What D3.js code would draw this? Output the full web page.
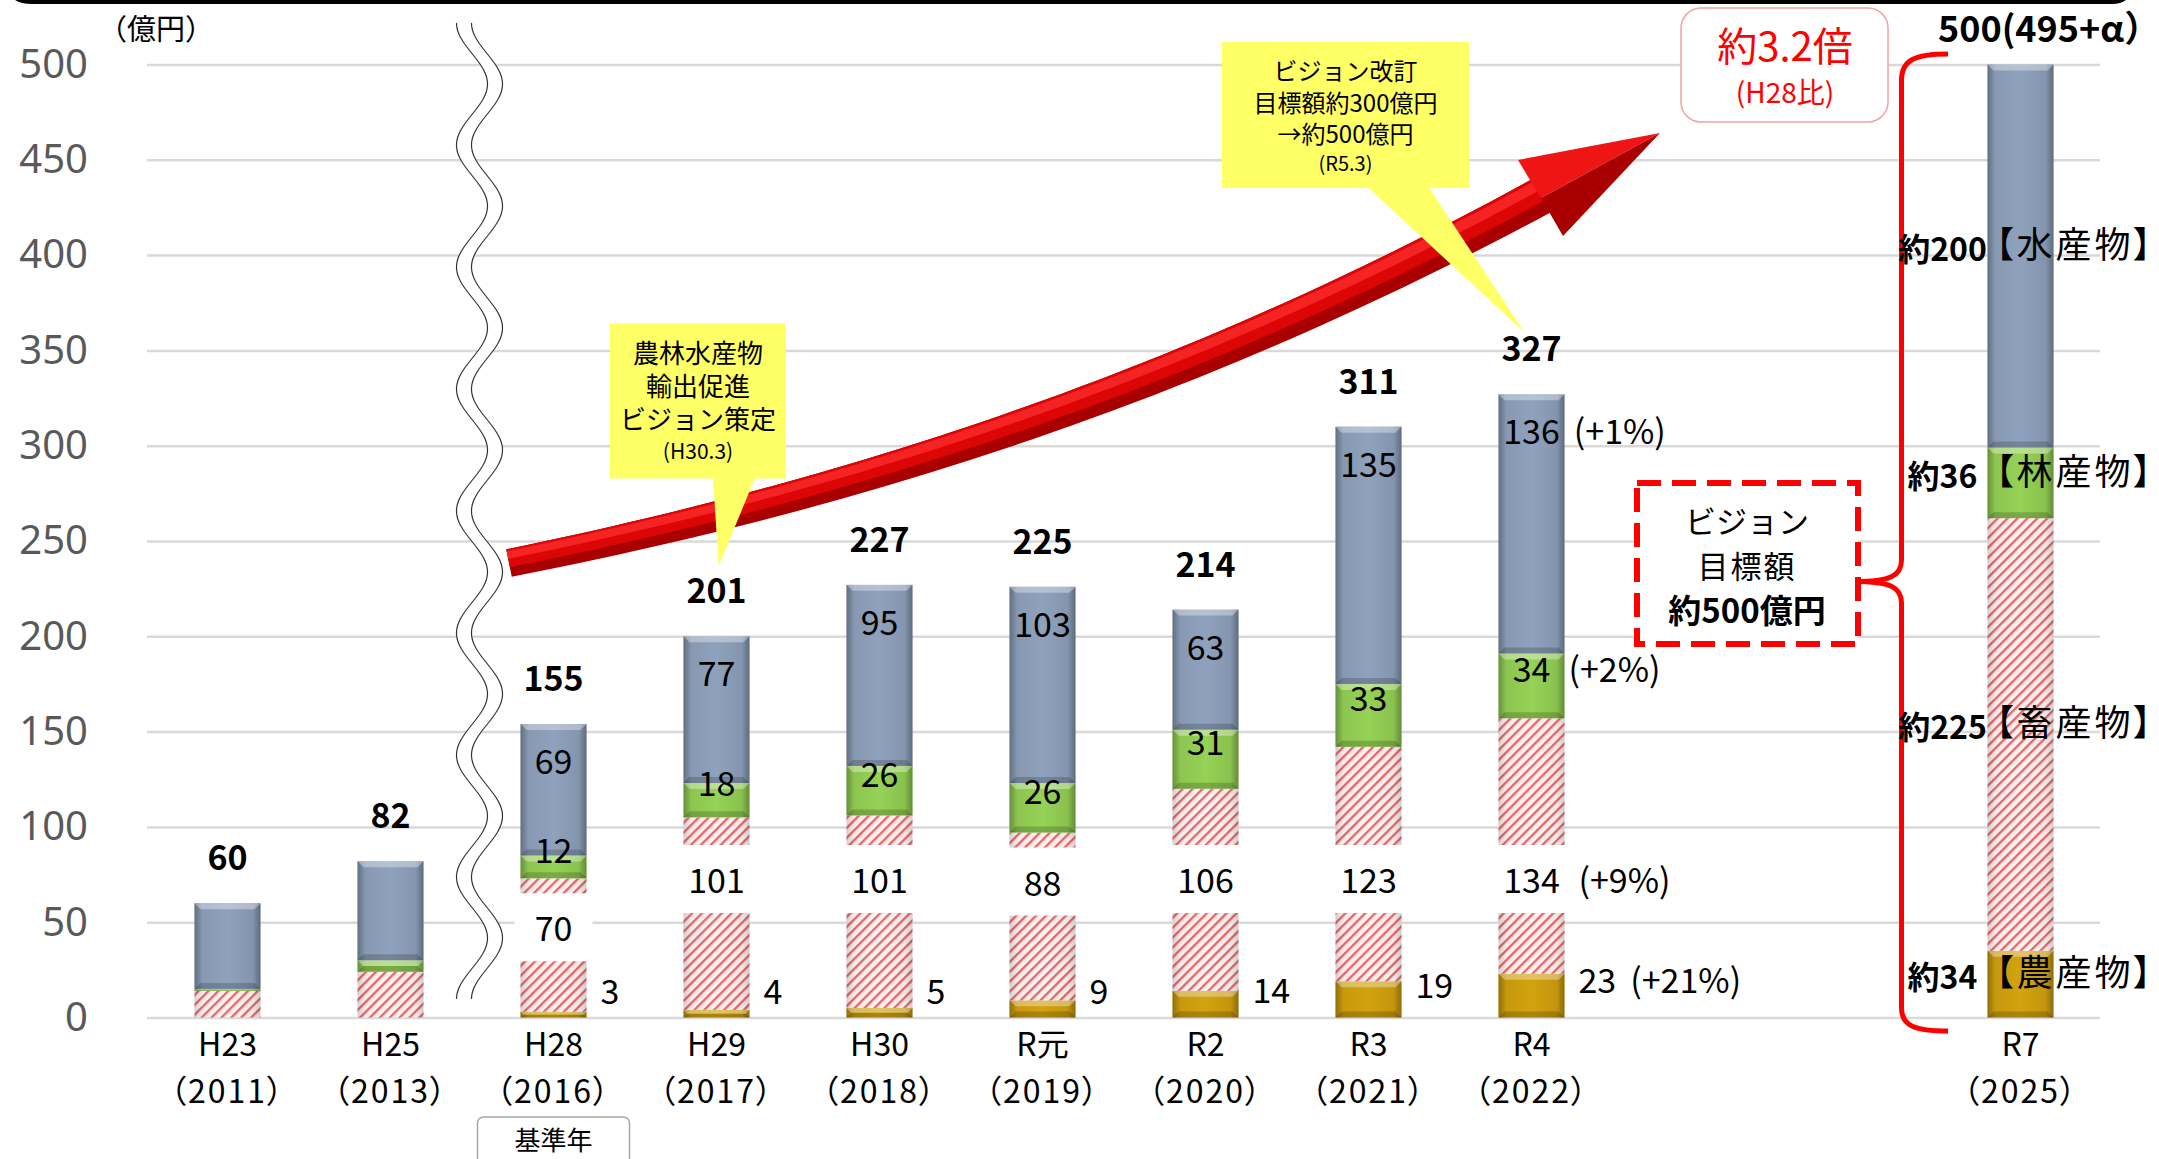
<!DOCTYPE html>
<html>
<head>
<meta charset="utf-8">
<script src="https://cdn.jsdelivr.net/npm/d3@7"></script>
<style>
  body { margin: 0; background: #fff; }
  svg text { font-family: "Noto Sans CJK JP", "Noto Sans", sans-serif; fill: #000; }
  .grid line { stroke: #d9d9d9; stroke-width: 2.5; }
  .grid text { font-family: "Noto Sans", sans-serif; font-size: 40px; fill: #595959; }
  .xaxis text { font-size: 32px; }
  .palt { font-feature-settings: "palt" 1; letter-spacing: 2px; }
  .names { font-feature-settings: "palt" 1; letter-spacing: 3px; }
</style>
</head>
<body>
<svg id="chart" width="2159" height="1159"></svg>
<script>
// ---- data ----
const slots = ['H23', 'H25', 'H28', 'H29', 'H30', 'R元', 'R2', 'R3', 'R4', 'gap1', 'gap2', 'R7'];
const categories = ['H23', 'H25', 'H28', 'H29', 'H30', 'R元', 'R2', 'R3', 'R4', 'R7'];
const years = ['（2011）', '（2013）', '（2016）', '（2017）', '（2018）', '（2019）', '（2020）', '（2021）', '（2022）', '（2025）'];
const agri      = [0, 0, 3, 4, 5, 9, 14, 19, 23, 35];
const livestock = [14, 24, 70, 101, 101, 88, 106, 123, 134, 227];
const forest    = [1, 6, 12, 18, 26, 26, 31, 33, 34, 37];
const fish      = [45, 52, 69, 77, 95, 103, 63, 135, 136, 201];
const totals    = [60, 82, 155, 201, 227, 225, 214, 311, 327];
const labelled  = ['H28', 'H29', 'H30', 'R元', 'R2', 'R3', 'R4'];
const r4Change  = ['(+21%)', '(+9%)', '(+2%)', '(+1%)'];
const targetValues = ['約34', '約225', '約36', '約200'];
const targetNames  = ['【農産物】', '【畜産物】', '【林産物】', '【水産物】'];
const targetTotal  = '500(495+α）';
const yTicks = [0, 50, 100, 150, 200, 250, 300, 350, 400, 450, 500];

const keys = ['agri', 'livestock', 'forest', 'fish'];
const colors = ['#d3a20e', 'url(#hatch)', '#95d255', '#8fa2bd'];

const svg = d3.select('#chart');

const x = d3.scaleBand().domain(slots).range([146, 2102]).paddingInner(0.595).paddingOuter(0.2975);
const y = d3.scaleLinear().domain([0, 500]).range([1017.5, 64.5]);
const bw = x.bandwidth();
const color = d3.scaleOrdinal().domain(keys).range(colors);

const rows = categories.map((c, i) => ({cat: c, agri: agri[i], livestock: livestock[i], forest: forest[i], fish: fish[i]}));
const stacked = d3.stack().keys(keys)(rows);

// ---- defs ----
const defs = svg.append('defs');
const hatch = defs.append('pattern').attr('id', 'hatch')
  .attr('patternUnits', 'userSpaceOnUse').attr('width', 7).attr('height', 7)
  .attr('patternTransform', 'rotate(45)');
hatch.append('rect').attr('width', 7).attr('height', 7).attr('fill', '#fcf0f0');
hatch.append('rect').attr('width', 2.3).attr('height', 7).attr('fill', '#e26a6a');

const side = defs.append('linearGradient').attr('id', 'side');
[[0, 0.32], [0.12, 0.06], [0.5, 0], [0.88, 0.08], [1, 0.34]].forEach(([o, a]) =>
  side.append('stop').attr('offset', o).attr('stop-color', '#000').attr('stop-opacity', a));

// top black border
svg.append('path').attr('d', 'M10,-12 Q12,2 32,2 L2112,2 Q2128,2 2130,-12')
  .attr('fill', 'none').attr('stroke', '#000').attr('stroke-width', 4);

// ---- grid + y labels ----
const grid = svg.append('g').attr('class', 'grid').attr('transform', 'translate(147,0)')
  .call(d3.axisLeft(y).tickValues(yTicks).tickSize(-(2100 - 147)).tickPadding(59));
grid.select('.domain').remove();

svg.append('text').attr('x', 98).attr('y', 40).attr('font-size', 29).text('（億円）');

// ---- bars ----
const gBars = svg.append('g');
stacked.forEach(layer => {
  layer.forEach(d => {
    const h = y(d[0]) - y(d[1]);
    if (h <= 0) return;
    const x0 = x(d.data.cat), y0 = y(d[1]);
    const g = gBars.append('g');
    g.append('rect').attr('x', x0).attr('y', y0).attr('width', bw).attr('height', h)
      .attr('fill', color(layer.key));
    g.append('rect').attr('x', x0).attr('y', y0).attr('width', bw).attr('height', h)
      .attr('fill', 'url(#side)').attr('opacity', layer.key === 'livestock' ? 0.45 : 1);
    if (layer.key !== 'livestock') {
      const b = Math.min(6, h / 2);
      g.append('path').attr('d', `M${x0},${y0}h${bw}l${-b},${b}h${-(bw - 2 * b)}z`)
        .attr('fill', '#fff').attr('opacity', 0.35);
      g.append('path').attr('d', `M${x0},${y0 + h}h${bw}l${-b},${-b}h${-(bw - 2 * b)}z`)
        .attr('fill', '#000').attr('opacity', 0.18);
    }
  });
});

// ---- value labels ----
const gBox = svg.append('g');
const gLab = svg.append('g').attr('font-size', 34);
const cx = c => x(c) + bw / 2;

function pct(textSel, baseline, barRight, k) {
  const end = textSel.node().getBBox();
  const px = Math.max(barRight + 4, end.x + end.width + 14);
  return gLab.append('text').attr('x', px).attr('y', baseline).text(r4Change[k]);
}

labelled.forEach(c => {
  const i = categories.indexOf(c);
  const left = x(c), right = x(c) + bw;
  const top = k => stacked[k][i][1], bot = k => stacked[k][i][0];
  const isR4 = c === 'R4';

  // fish
  let b = y(top(3)) + 50;
  let t = gLab.append('text').attr('x', cx(c)).attr('y', b).attr('text-anchor', 'middle').text(fish[i]);
  if (isR4) pct(t, b, right, 3);

  // forest
  b = y((top(2) + bot(2)) / 2) - 4;
  t = gLab.append('text').attr('x', cx(c)).attr('y', b).attr('text-anchor', 'middle').text(forest[i]);
  if (isR4) pct(t, b, right, 2);

  // livestock (on white box)
  b = y(Math.min(65.3, top(1) - 33));
  t = gLab.append('text').attr('x', cx(c)).attr('y', b).attr('text-anchor', 'middle').text(livestock[i]);
  let x1 = right + 6;
  if (isR4) {
    const p = pct(t, b, right + 10, 1).node().getBBox();
    x1 = p.x + p.width + 8;
  }
  gBox.append('rect').attr('x', left - 6).attr('y', b - 48).attr('width', x1 - left + 6).attr('height', 68)
    .attr('fill', '#fff');

  // agri
  b = y(Math.max(7, agri[i] * 0.55));
  t = gLab.append('text').attr('x', right + 14).attr('y', b).text(agri[i]);
  if (isR4) pct(t, b, right, 0);
});

// totals
svg.append('g').selectAll('text').data(totals).join('text')
  .attr('x', (d, i) => cx(categories[i]))
  .attr('y', (d, i) => y(stacked[3][i][1]) - 33)
  .attr('text-anchor', 'middle').attr('font-size', 34).attr('font-weight', 'bold')
  .text(d => d);

// ---- x axis ----
const xa = svg.append('g').attr('class', 'xaxis').attr('transform', `translate(0,${y(0)})`)
  .call(d3.axisBottom(x).tickValues(categories).tickSize(0).tickPadding(0));
xa.select('.domain').remove();
xa.selectAll('.tick text').attr('dy', null).text(null).each(function (d) {
  const s = d3.select(this);
  s.append('tspan').attr('x', 0).attr('y', 38).text(d);
  s.append('tspan').attr('x', 0).attr('y', 85).attr('class', 'palt').text(years[categories.indexOf(d)]);
});

// 基準年
svg.append('rect').attr('x', cx('H28') - 76).attr('y', 1117).attr('width', 152).attr('height', 60).attr('rx', 6)
  .attr('fill', '#fff').attr('stroke', '#a6a6a6').attr('stroke-width', 1.5);
svg.append('text').attr('x', cx('H28')).attr('y', 1150).attr('text-anchor', 'middle').attr('font-size', 26).text('基準年');

// ---- axis break ----
const wave = (c) => d3.range(23, 1000, 2).map(v => [c - 15.5 * Math.cos(2 * Math.PI * (v - 23) / 122), v]);
const wl = wave(472), wr = wave(487);
svg.append('path').attr('d', d3.line()(wl.concat(wr.slice().reverse())) + 'Z').attr('fill', '#fff');
[wl, wr].forEach(w => svg.append('path').attr('d', d3.line()(w)).attr('fill', 'none')
  .attr('stroke', '#333').attr('stroke-width', 1.2));

// ---- red arrow ----
const P = [[509, 563], [859, 493], [1193, 385], [1541, 196]];
const bez = t => [0, 1].map(k => (1 - t) ** 3 * P[0][k] + 3 * (1 - t) ** 2 * t * P[1][k] + 3 * (1 - t) * t * t * P[2][k] + t ** 3 * P[3][k]);
const bezD = t => [0, 1].map(k => 3 * (1 - t) ** 2 * (P[1][k] - P[0][k]) + 6 * (1 - t) * t * (P[2][k] - P[1][k]) + 3 * t * t * (P[3][k] - P[2][k]));
function band(f0, f1) {
  const up = [], lo = [];
  d3.range(0, 1.0001, 0.02).forEach(t => {
    const [px, py] = bez(t), [dx, dy] = bezD(t), L = Math.hypot(dx, dy);
    const nx = dy / L, ny = -dx / L, hw = 14 + 5 * t;
    up.push([px + nx * hw * f1, py + ny * hw * f1]);
    lo.push([px + nx * hw * f0, py + ny * hw * f0]);
  });
  return d3.line()(up.concat(lo.reverse())) + 'Z';
}
const ga = svg.append('g');
ga.append('path').attr('d', band(-1, 1)).attr('fill', '#a80000');
ga.append('path').attr('d', band(-0.3, 1)).attr('fill', '#dc0606');
ga.append('path').attr('d', band(0.3, 0.85)).attr('fill', '#ff3030').attr('opacity', 0.7);
ga.append('path').attr('d', 'M1518,160 L1660,133 L1541,198 Z').attr('fill', '#f01515');
ga.append('path').attr('d', 'M1541,198 L1660,133 L1563,236 Z').attr('fill', '#a80000');

// ---- callouts ----
function callout(rx, ry, rw, rh, tri, cxT, lines) {
  const g = svg.append('g');
  g.append('path').attr('d', d3.line()(tri) + 'Z').attr('fill', '#ffff66');
  g.append('rect').attr('x', rx).attr('y', ry).attr('width', rw).attr('height', rh).attr('fill', '#ffff66');
  lines.forEach(([s, b, fs]) => g.append('text').attr('x', cxT).attr('y', b).attr('font-size', fs)
    .attr('text-anchor', 'middle').text(s));
}
callout(610, 323.5, 176, 155, [[713, 478], [755, 478], [718.7, 566]], 698,
  [['農林水産物', 363, 26], ['輸出促進', 396, 26], ['ビジョン策定', 429, 26], ['(H30.3)', 459, 21]]);
callout(1222, 42, 247, 146, [[1367.5, 187], [1428.6, 187], [1524.5, 332.4]], 1345.5,
  [['ビジョン改訂', 80, 24], ['目標額約300億円', 112, 24], ['→約500億円', 143, 24], ['(R5.3)', 171, 20]]);

// 約3.2倍
svg.append('rect').attr('x', 1681).attr('y', 8).attr('width', 207).attr('height', 114).attr('rx', 20)
  .attr('fill', '#fff').attr('stroke', '#f2a3a3').attr('stroke-width', 1.5);
svg.append('text').attr('x', 1785).attr('y', 61).attr('text-anchor', 'middle').attr('font-size', 40)
  .style('fill', '#ff0000').text('約3.2倍');
svg.append('text').attr('x', 1785).attr('y', 103).attr('text-anchor', 'middle').attr('font-size', 28)
  .style('fill', '#ff0000').text('(H28比)');

// dashed target box
svg.append('rect').attr('x', 1637).attr('y', 483).attr('width', 221).attr('height', 161)
  .attr('fill', '#fff').attr('stroke', '#ff0000').attr('stroke-width', 6).attr('stroke-dasharray', '24 11');
svg.append('text').attr('x', 1747).attr('y', 533).attr('text-anchor', 'middle').attr('font-size', 31).text('ビジョン');
svg.append('text').attr('x', 1747).attr('y', 578).attr('text-anchor', 'middle').attr('font-size', 31)
  .attr('letter-spacing', 2).text('目標額');
svg.append('text').attr('x', 1747).attr('y', 623).attr('text-anchor', 'middle').attr('font-size', 33)
  .attr('font-weight', 'bold').text('約500億円');

// brace
svg.append('path')
  .attr('d', 'M1948,54 C1915,54 1901.5,60 1901.5,80 L1901.5,560 C1901.5,576 1890,581.5 1855,581.5 C1890,581.5 1901.5,587 1901.5,603 L1901.5,1008 C1901.5,1026 1915,1031 1948,1031')
  .attr('fill', 'none').attr('stroke', '#ff0000').attr('stroke-width', 5);

// R7 target labels
const iR7 = categories.indexOf('R7');
keys.forEach((k, j) => {
  const mid = (stacked[j][iR7][0] + stacked[j][iR7][1]) / 2;
  svg.append('text').attr('x', cx('R7') - 78).attr('y', y(mid) + 5).attr('text-anchor', 'middle')
    .attr('font-size', 32).attr('font-weight', 'bold').text(targetValues[j]);
  svg.append('text').attr('class', 'names').attr('x', x('R7') + 8).attr('y', y(mid) + 2).attr('font-size', 36)
    .text(targetNames[j]);
});
svg.append('text').attr('x', 1938).attr('y', 42).attr('font-size', 36).attr('font-weight', 'bold').text(targetTotal);
</script>
</body>
</html>
